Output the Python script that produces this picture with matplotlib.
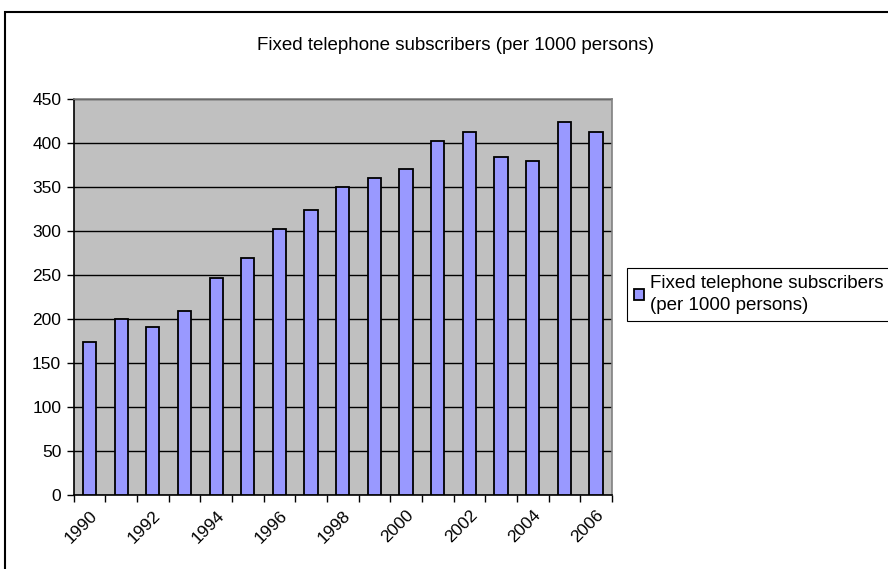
import numpy as np
import matplotlib
matplotlib.use("Agg")
import matplotlib.pyplot as plt
from matplotlib.patches import Rectangle

plt.rcParams['font.family'] = ['Liberation Sans', 'DejaVu Sans']

## data: fixed telephone subscribers per 1000 persons
years = list(range(1990, 2007))
subscribers = [174, 200, 191, 209, 247, 269, 302, 324, 350, 360,
               370, 402, 412, 384, 379, 424, 413]
series_name = "Fixed telephone subscribers\n(per 1000 persons)"
title = "Fixed telephone subscribers (per 1000 persons)"

fig = plt.figure(figsize=(8.88, 5.69), dpi=100)
ax = fig.add_axes([0.083, 0.130, 0.606, 0.696])

x = np.arange(len(years))
bars = ax.bar(x, subscribers, width=0.42, color="#9999FF", edgecolor="black",
              linewidth=1.3, label=series_name, zorder=3)

ax.set_facecolor("#C0C0C0")
ax.set_xlim(-0.5, len(years) - 0.5)
ax.set_ylim(0, 450)
ax.set_yticks(np.arange(0, 451, 50))
ax.yaxis.grid(True, color="black", linewidth=1.0, zorder=1)
ax.set_axisbelow(True)

## category labels every other year, ticks between categories
ax.set_xticks(x[::2])
ax.set_xticklabels([str(y) for y in years[::2]], rotation=45, ha="right",
                   va="top", rotation_mode="anchor")
ax.set_xticks(np.arange(-0.5, len(years), 1), minor=True)
ax.tick_params(axis="x", which="major", length=0, pad=9, labelsize=12.5)
ax.tick_params(axis="x", which="minor", length=5, width=1, direction="out")
ax.tick_params(axis="y", length=5, width=1, labelsize=12.5, direction="out",
               pad=4)

ax.spines["left"].set_color("black")
ax.spines["bottom"].set_color("black")
ax.spines["top"].set_color("#808080")
ax.spines["right"].set_color("#808080")
for s in ax.spines.values():
    s.set_linewidth(1.2)

fig.text(455 / 888, 1 - 45 / 569, title, ha="center", va="center",
         fontsize=13.5)

leg = fig.legend(handles=[bars], labels=[series_name], loc="upper left",
                 bbox_to_anchor=(627 / 888, 1 - 268 / 569), fontsize=13.5,
                 fancybox=False, framealpha=1, edgecolor="black",
                 handlelength=0.55, handleheight=0.55, handletextpad=0.35,
                 borderpad=0.35, borderaxespad=0)
leg.get_frame().set_linewidth(0.8)
leg.get_texts()[0].set_linespacing(1.45)

## outer chart frame
fig.patches.append(Rectangle((5 / 888, -0.5), 2.0, 0.5 + 1 - 12 / 569,
                             transform=fig.transFigure, fill=False,
                             edgecolor="black", linewidth=1.5))

fig.savefig("out.png", dpi=100)
